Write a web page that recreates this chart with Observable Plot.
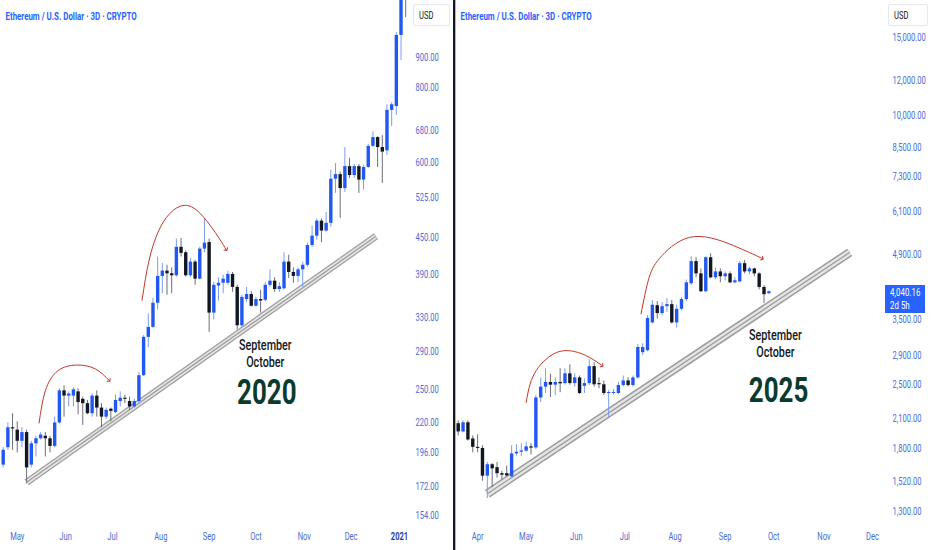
<!DOCTYPE html>
<html><head><meta charset="utf-8">
<script src="https://cdn.jsdelivr.net/npm/d3@7"></script>
<script src="https://cdn.jsdelivr.net/npm/@observablehq/plot@0.6"></script>
<style>
body{margin:0;background:#fff;}
#wrap{position:relative;width:932px;height:550px;overflow:hidden;font-family:Roboto,"DejaVu Sans",sans-serif;}
#left{position:absolute;left:0;top:0;}
#right{position:absolute;left:455px;top:0;}
.divider{position:absolute;left:453px;top:0;width:2px;height:550px;background:#131722;}
.edge{position:absolute;left:455px;top:0;width:1px;height:550px;background:#b2b5be;}
.usd{position:absolute;top:4px;height:22px;border:1px solid #e6e8ee;border-radius:2px;font-size:10.5px;line-height:22px;color:#131722;box-sizing:border-box;padding-left:5px;}
.usd span,.price span{display:inline-block;transform:scaleX(0.72);transform-origin:left center;white-space:nowrap;}
.price{position:absolute;left:885px;top:285px;width:40px;height:28px;background:#2962ff;color:#fff;font-size:11px;line-height:13px;padding:1px 0 0 5px;box-sizing:border-box;}
</style></head>
<body>
<div id="wrap">
  <div id="left"></div>
  <div id="right"></div>
  <div class="divider"></div>
  <div class="edge"></div>
  <div class="usd" style="left:413px;width:37px;"><span>USD</span></div>
  <div class="usd" style="left:888px;width:40px;"><span>USD</span></div>
  <div class="price"><span>4,040.16</span><br><span>2d 5h</span></div>
</div>
<script>
// ---------- 2020 panel data (3-day candles starting 2020-04-22) ----------
const start2020 = "2020-04-22";
const open2020  = [187,200,216,214,205,212,187,203,207,209,207,201,220,249,244,244,248,241,237,228,244,233,225,232,229,239,242,239,234,239,264,306,318,349,387,395,391,388,433,424,388,409,383,430,441,336,373,377,377,390,371,320,354,361,345,354,353,374,380,368,369,409,393,387,397,404,436,452,479,461,475,563,573,543,591,571,591,561,589,639,661,636,628,734,745,980,1300];
const high2020  = [200,220,228,221,216,214,205,209,212,212,209,225,251,254,248,252,251,243,240,246,249,237,233,233,245,248,245,243,241,267,308,335,356,417,407,404,400,447,448,427,415,412,433,484,447,378,385,389,395,393,374,360,371,365,357,367,378,397,385,378,424,420,400,400,409,440,470,483,483,495,583,598,579,636,610,596,596,594,644,676,663,666,750,756,990,1350,1420];
const low2020   = [185,198,198,196,200,174,185,193,206,193,196,200,219,225,234,234,227,218,227,225,225,216,223,221,228,234,237,231,233,236,263,294,317,340,362,360,362,386,417,386,385,374,382,424,312,327,352,362,374,364,315,318,350,344,344,336,351,371,364,364,367,384,377,378,371,401,433,445,441,459,468,533,484,535,565,565,533,540,587,636,589,554,617,690,720,890,1050];
const close2020 = [198,216,215,205,212,185,203,207,210,207,201,220,249,244,246,250,238,237,228,244,233,225,231,230,240,242,241,234,239,264,306,318,349,387,395,391,388,433,423,388,409,383,430,440,336,374,377,383,390,371,320,357,361,345,354,352,374,380,368,372,409,393,387,397,404,436,452,479,461,475,563,573,543,591,571,591,561,589,639,661,636,625,734,750,980,1250,1150];
const yTicks2020 = [154,172,196,220,250,290,330,390,450,525,600,680,800,900];
const months2020 = ["2020-05-01","2020-06-01","2020-07-01","2020-08-01","2020-09-01","2020-10-01","2020-11-01","2020-12-01"];
const monthLabels2020 = ["May","Jun","Jul","Aug","Sep","Oct","Nov","Dec"];
const yearTick2020 = ["2021-01-01"];
const yearLabel2020 = ["2021"];
const bandDates2020 = ["2020-05-07","2020-12-17"];
const bandValues2020 = [175,452];
const arcSmallDates2020 = ["2020-05-15","2020-05-19","2020-05-27","2020-06-08","2020-06-20","2020-06-29"];
const arcSmallValues2020 = [220,249,269,275,271,259];
const arcBigDates2020 = ["2020-07-20","2020-07-25","2020-08-03","2020-08-16","2020-08-28","2020-09-07","2020-09-12"];
const arcBigValues2020 = [353,417,479,509,488,450,429];

// ---------- 2025 panel data (3-day candles starting 2025-03-20) ----------
const start2025 = "2025-03-20";
const open2025  = [2045,1960,2055,1890,1810,1800,1560,1655,1630,1580,1580,1555,1750,1765,1775,1815,1805,2335,2470,2530,2495,2530,2515,2645,2515,2590,2480,2515,2745,2515,2500,2390,2390,2390,2490,2550,2490,2590,2950,2980,3440,3760,3610,3740,3780,3440,3690,3880,4210,4720,4430,4040,4815,4340,4475,4365,4430,4230,4250,4670,4475,4545,4430,4130,4000];
const high2025  = [2075,2075,2075,1920,1930,1825,1675,1665,1675,1600,1645,1825,1835,1845,1860,1845,2365,2590,2715,2640,2590,2715,2715,2770,2645,2615,2575,2845,2800,2590,2550,2425,2440,2530,2615,2590,2615,3075,3090,3570,3860,3840,3820,3900,3860,3770,3920,4290,4840,4815,4545,4840,4915,4565,4545,4475,4475,4340,4720,4745,4590,4565,4455,4170,4060];
const low2025   = [1920,1950,1870,1760,1760,1520,1390,1470,1545,1530,1555,1545,1730,1725,1765,1740,1790,2280,2390,2340,2365,2400,2495,2495,2470,2375,2390,2490,2470,2450,2365,2110,2375,2375,2470,2470,2470,2575,2905,2965,3420,3510,3570,3630,3420,3350,3660,3840,4170,4340,4020,4020,4320,4300,4230,4275,4210,4210,4230,4430,4410,4365,4080,3800,3980];
const close2025 = [1960,2055,1880,1810,1800,1560,1655,1620,1580,1568,1562,1750,1765,1777,1815,1803,2335,2470,2530,2495,2530,2512,2645,2515,2590,2390,2515,2745,2500,2500,2390,2402,2402,2490,2550,2490,2590,3030,3030,3520,3770,3610,3740,3780,3440,3690,3880,4230,4720,4430,4040,4815,4340,4475,4365,4430,4230,4275,4670,4475,4545,4430,4130,3980,4040];
const yTicks2025 = [1300,1520,1800,2100,2500,2900,3500,4900,6100,7300,8500,10000,12000,15000];
const months2025 = ["2025-04-01","2025-05-01","2025-06-01","2025-07-01","2025-08-01","2025-09-01","2025-10-01","2025-11-01","2025-12-01"];
const monthLabels2025 = ["Apr","May","Jun","Jul","Aug","Sep","Oct","Nov","Dec"];
const bandDates2025 = ["2025-04-07","2025-11-17"];
const bandValues2025 = [1425,4950];
const arcSmallDates2025 = ["2025-05-01","2025-05-06","2025-05-18","2025-05-30","2025-06-09","2025-06-17"];
const arcSmallValues2025 = [2284,2645,2932,2972,2881,2760];
const arcBigDates2025 = ["2025-07-11","2025-07-16","2025-07-24","2025-08-13","2025-09-09","2025-09-24"];
const arcBigValues2025 = [3604,4347,4869,5370,5075,4794];

const title = "Ethereum / U.S. Dollar · 3D · CRYPTO";
const noteMonths = ["September","October"];

const D = s => new Date(s + "T00:00:00Z");
const FONT = 'Roboto,"DejaVu Sans",sans-serif';
const SX = 0.72; // horizontal squeeze of all lettering, as in the reference
const UP = "#2157f3", DOWN = "#131722", UPW = "#7c9cf3", DOWNW = "#6b6f78";
const AX = "#4a6cd4";

function condense(svg) {
  svg.querySelectorAll("text").forEach(t => {
    const x = parseFloat(t.getAttribute("x")) || 0;
    const tr = t.getAttribute("transform") || "";
    t.setAttribute("transform", `${tr} translate(${x},0) scale(${SX},1) translate(${-x},0)`);
  });
  return svg;
}

function panel(cfg) {
  const start = D(cfg.start);
  const rows = cfg.open.map((o, i) => ({
    date: d3.utcDay.offset(start, 3 * i), o, h: cfg.high[i], l: cfg.low[i], c: cfg.close[i],
    up: cfg.close[i] >= o
  }));
  const band = cfg.bandDates.map((d, i) => ({date: D(d), v: cfg.bandValues[i]}));
  const arcs = [
    ...cfg.arcSmallDates.map((d, i) => ({id: "s", date: D(d), v: cfg.arcSmallValues[i]})),
    ...cfg.arcBigDates.map((d, i) => ({id: "b", date: D(d), v: cfg.arcBigValues[i]}))
  ];
  const notes = [
    {date: D(cfg.noteDate), v: cfg.noteV[0], t: noteMonths[0]},
    {date: D(cfg.noteDate), v: cfg.noteV[1], t: noteMonths[1]}
  ];
  const year = [{date: D(cfg.yearDate), v: cfg.yearV, t: cfg.yearText}];
  const monthTicks = cfg.months.map(D);
  const marks = [
    Plot.line(band, {x: "date", y: "v", stroke: "#9c9c9c", strokeWidth: cfg.bw, strokeLinecap: "butt"}),
    Plot.line(band, {x: "date", y: "v", stroke: "#e4e4e4", strokeWidth: cfg.bw * 0.66, strokeLinecap: "butt"}),
    Plot.line(band, {x: "date", y: "v", stroke: "#9c9c9c", strokeWidth: 1.2, strokeLinecap: "butt"}),
    Plot.ruleX(rows, {x: "date", y1: "l", y2: "h", stroke: d => d.up ? UPW : DOWNW, strokeWidth: 1, clip: true}),
    Plot.ruleX(rows, {x: "date", y1: "o", y2: "c", stroke: d => d.up ? UP : DOWN, strokeWidth: 3.4, clip: true}),
    Plot.line(arcs, {x: "date", y: "v", z: "id", curve: "natural", stroke: "#c0392b", strokeWidth: 1, markerEnd: "arrow"}),
    Plot.text(notes, {x: "date", y: "v", text: "t", fontSize: 15, fontWeight: 500, fill: "#131722", fontFamily: FONT}),
    Plot.text(year, {x: "date", y: "v", text: "t", fontSize: 36, fontWeight: "bold", fill: "#0b3b2c", fontFamily: FONT}),
    Plot.text([title], {text: d => d, frameAnchor: "top-left", dx: 5, dy: 16, textAnchor: "start", lineAnchor: "middle", fill: "#2962ff", fontWeight: "bold", fontSize: 11, fontFamily: FONT}),
    Plot.axisY({ticks: cfg.yTicks, anchor: "right", tickSize: 0, tickPadding: cfg.tp, tickFormat: cfg.yFormat, fill: AX, label: null}),
    Plot.axisX({ticks: monthTicks, tickSize: 0, tickPadding: 7, tickFormat: (d, i) => cfg.monthLabels[i], fill: AX, label: null})
  ];
  if (cfg.yearTicks) {
    marks.push(Plot.axisX({ticks: cfg.yearTicks.map(D), tickSize: 0, tickPadding: 7, tickFormat: (d, i) => cfg.yearLabels[i], fill: "#1e3fa8", fontWeight: "bold", label: null}));
  }
  return condense(Plot.plot({
    width: cfg.width, height: 550,
    marginTop: 0, marginLeft: 0, marginRight: cfg.mr, marginBottom: 25,
    x: {type: "utc", domain: cfg.xDomain.map(D), range: cfg.xRange},
    y: {type: "log", domain: cfg.yDomain, range: cfg.yRange},
    style: {fontFamily: FONT, fontSize: "10.5px", background: "transparent", overflow: "hidden"},
    marks
  }));
}

document.getElementById("left").append(panel({
  start: start2020, open: open2020, high: high2020, low: low2020, close: close2020,
  bandDates: bandDates2020, bandValues: bandValues2020, bw: 7,
  arcSmallDates: arcSmallDates2020, arcSmallValues: arcSmallValues2020,
  arcBigDates: arcBigDates2020, arcBigValues: arcBigValues2020,
  noteDate: "2020-10-07", noteV: [297, 278], yearDate: "2020-10-08", yearV: 247, yearText: "2020",
  months: months2020, monthLabels: monthLabels2020, yearTicks: yearTick2020, yearLabels: yearLabel2020,
  yTicks: yTicks2020, yFormat: d3.format(".2f"), tp: 4,
  width: 453, mr: 42,
  xDomain: ["2020-04-22", "2021-01-05"], xRange: [2.7, 405.2],
  yDomain: [154, 900], yRange: [515, 57]
}));

document.getElementById("right").append(panel({
  start: start2025, open: open2025, high: high2025, low: low2025, close: close2025,
  bandDates: bandDates2025, bandValues: bandValues2025, bw: 9,
  arcSmallDates: arcSmallDates2025, arcSmallValues: arcSmallValues2025,
  arcBigDates: arcBigDates2025, arcBigValues: arcBigValues2025,
  noteDate: "2025-10-02", noteV: [3223, 2952], yearDate: "2025-10-04", yearV: 2426, yearText: "2025",
  months: months2025, monthLabels: monthLabels2025,
  yTicks: yTicks2025, yFormat: d3.format(",.2f"), tp: 3,
  width: 477, mr: 43,
  xDomain: ["2025-03-20", "2025-12-10"], xRange: [2.7, 431.5],
  yDomain: [1300, 15000], yRange: [511, 37]
}));
</script>
</body></html>
